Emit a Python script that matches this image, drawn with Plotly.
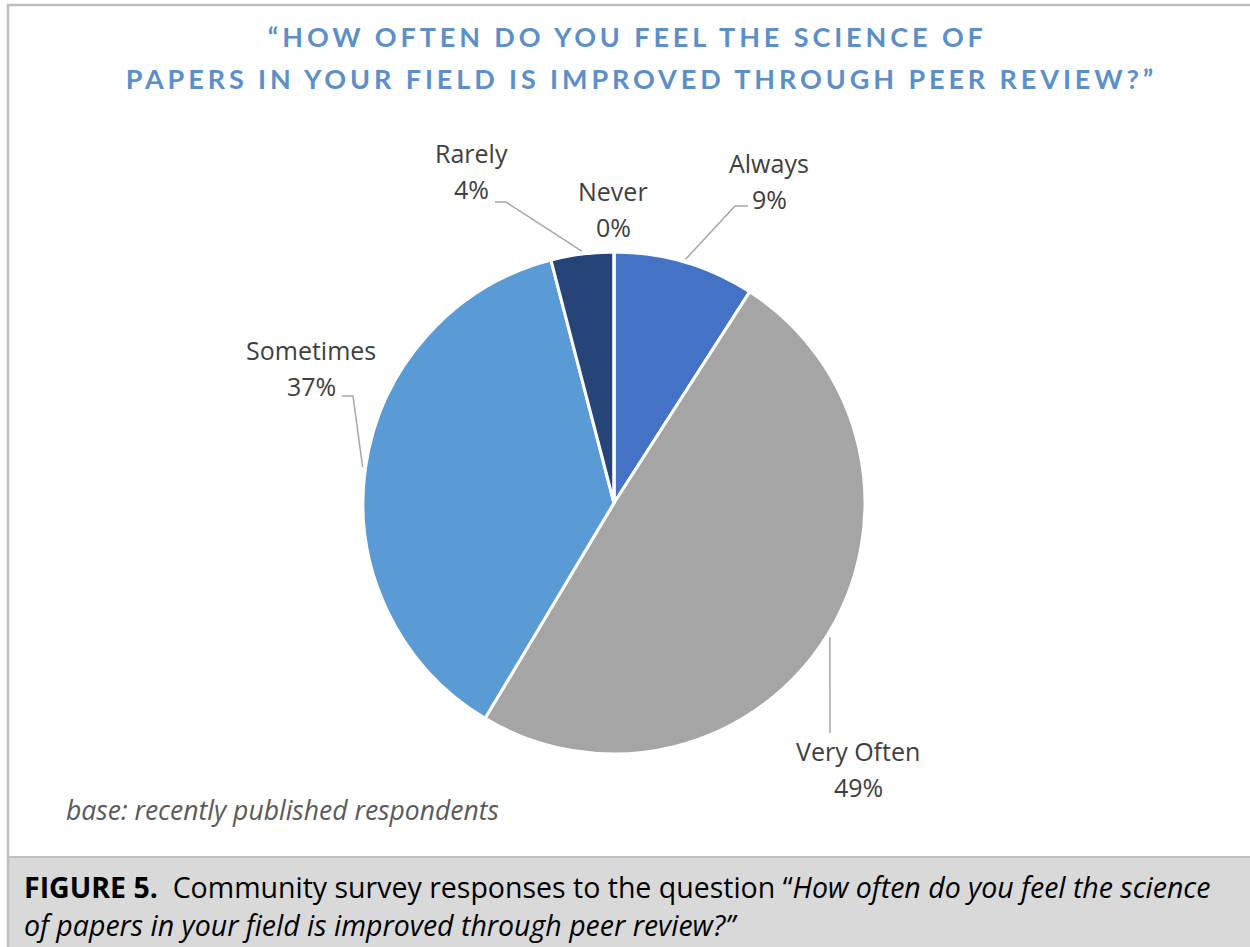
import numpy as np
import plotly.graph_objects as go

# Survey answers, clockwise from 12 o'clock
categories = ["Always", "Very Often", "Sometimes", "Rarely", "Never"]
percentages = [9, 49, 37, 4, 0]
slice_colors = ["#4472C4", "#A5A5A5", "#5B9BD5", "#264478", "#9E480E"]

title_lines = [
    "\u201cHOW OFTEN DO YOU FEEL THE SCIENCE OF",
    "PAPERS IN YOUR FIELD IS IMPROVED THROUGH PEER REVIEW?\u201d",
]
base_note = "base: recently published respondents"
caption_line1 = ("<b>FIGURE 5.</b>  Community survey responses to the question "
                 "\u201c<i>How often do you feel the science</i>")
caption_line2 = "<i>of papers in your field is improved through peer review?\u201d</i>"

W, H = 1250, 947
CX, CY, R = 614, 503, 251  # pie centre and radius in pixels


def px(x):
    return x / W


def py(y):
    return 1 - y / H


fig = go.Figure(go.Pie(
    labels=categories,
    values=percentages,
    sort=False,
    direction="clockwise",
    rotation=0,
    marker=dict(colors=slice_colors, line=dict(color="white", width=3)),
    textinfo="none",
    hoverinfo="label+percent",
    showlegend=False,
    domain=dict(x=[px(CX - R), px(CX + R)], y=[py(CY + R), py(CY - R)]),
))

# label placement (pixel centres of the name line) and leader-line elbows
label_pos = {
    "Always": (769, 163),
    "Very Often": (858, 751),
    "Sometimes": (311, 350),
    "Rarely": (471, 153),
    "Never": (613, 191),
}
leader_tail = {
    "Always": [(735, 206), (748, 206)],
    "Very Often": [(830, 733)],
    "Sometimes": [(353, 396), (342, 396)],
    "Rarely": [(506, 202), (495, 202)],
}

total = float(sum(percentages))
cum = np.cumsum([0] + percentages)
label_font = dict(family="Open Sans", size=25, color="#404040")
annotations = []
shapes = []
for i, cat in enumerate(categories):
    lx, ly = label_pos[cat]
    annotations.append(dict(x=px(lx), y=py(ly), xref="paper", yref="paper",
                            text=cat, showarrow=False, font=label_font,
                            xanchor="center", yanchor="middle"))
    annotations.append(dict(x=px(lx), y=py(ly + 36), xref="paper", yref="paper",
                            text=f"{percentages[i]}%", showarrow=False, font=label_font,
                            xanchor="center", yanchor="middle"))
    if cat in leader_tail:
        mid = (cum[i] + percentages[i] / 2) / total * 2 * np.pi
        sx = CX + (R + 3) * np.sin(mid)
        sy = CY - (R + 3) * np.cos(mid)
        pts = [(sx, sy)] + leader_tail[cat]
        path = "M " + " L ".join(f"{px(x):.5f},{py(y):.5f}" for x, y in pts)
        shapes.append(dict(type="path", path=path, xref="paper", yref="paper",
                           line=dict(color="#A6A6A6", width=1.5)))

# chart title, two lines
title_font = dict(family="Lato", size=27, color="#5B8FC9", weight="bold")
annotations.append(dict(x=px(627), y=py(37), xref="paper", yref="paper",
                        text=title_lines[0], showarrow=False, font=title_font,
                        xanchor="center", yanchor="middle"))
annotations.append(dict(x=px(641), y=py(79), xref="paper", yref="paper",
                        text=title_lines[1], showarrow=False, font=title_font,
                        xanchor="center", yanchor="middle"))

# base note
annotations.append(dict(x=px(64), y=py(810), xref="paper", yref="paper",
                        text=f"<i>{base_note}</i>", showarrow=False,
                        font=dict(family="Open Sans", size=26.5, color="#595959"),
                        xanchor="left", yanchor="middle"))

# figure caption
cap_font = dict(family="Open Sans", size=28.5, color="#000000")
annotations.append(dict(x=px(22), y=py(887), xref="paper", yref="paper",
                        text=caption_line1, showarrow=False, font=cap_font,
                        xanchor="left", yanchor="middle"))
annotations.append(dict(x=px(22), y=py(925), xref="paper", yref="paper",
                        text=caption_line2, showarrow=False, font=cap_font,
                        xanchor="left", yanchor="middle"))

# frame and caption band
shapes.insert(0, dict(type="rect", xref="paper", yref="paper",
                      x0=px(7), x1=1.01, y0=py(947), y1=py(857),
                      fillcolor="#D9D9D9", line=dict(width=0), layer="below"))
shapes.append(dict(type="line", xref="paper", yref="paper",
                   x0=px(7), x1=1, y0=py(857), y1=py(857),
                   line=dict(color="#BFBFBF", width=2)))
shapes.append(dict(type="line", xref="paper", yref="paper",
                   x0=px(8), x1=px(8), y0=0, y1=py(4),
                   line=dict(color="#BFBFBF", width=2.5)))
shapes.append(dict(type="line", xref="paper", yref="paper",
                   x0=px(7), x1=1, y0=py(5), y1=py(5),
                   line=dict(color="#BFBFBF", width=2.5)))

fig.update_layout(
    width=W, height=H,
    margin=dict(l=0, r=0, t=0, b=0),
    paper_bgcolor="white",
    plot_bgcolor="white",
    annotations=annotations,
    shapes=shapes,
)

# spaced-out capitals for the title lines
post = """
var gd = document.getElementById('{plot_id}');
gd.querySelectorAll('.annotation-text').forEach(function (t) {
  var s = t.textContent;
  if (s.length > 30 && s === s.toUpperCase()) { t.style.letterSpacing = '3.9px'; }
});
"""
fig.write_html("out.html", post_script=post)
